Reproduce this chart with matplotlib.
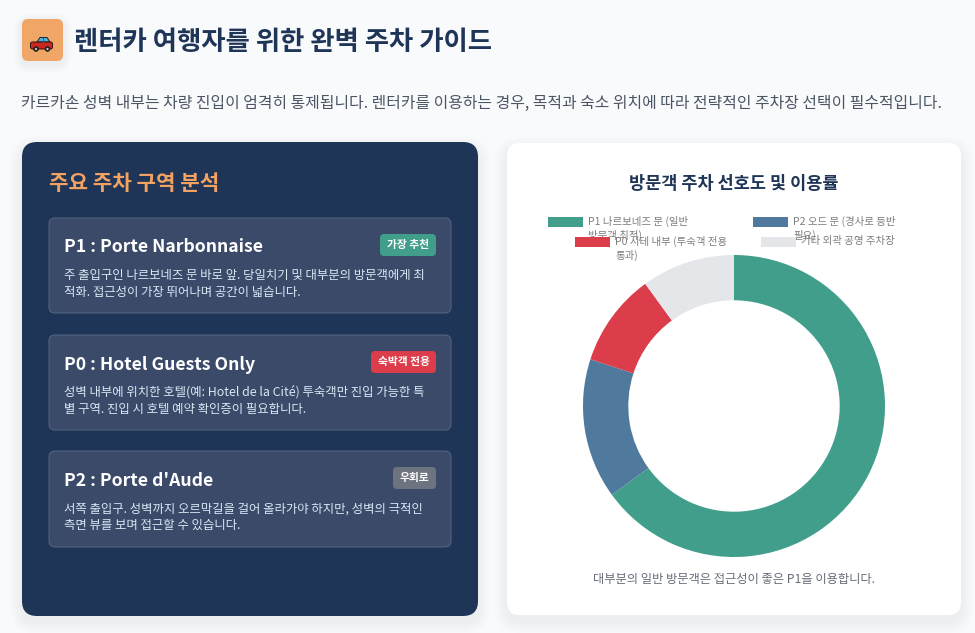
import matplotlib
matplotlib.use('Agg')
import matplotlib.pyplot as plt
from matplotlib.patches import FancyBboxPatch, Rectangle, Circle, Polygon

plt.rcParams['font.family'] = ['Noto Sans CJK KR', 'DejaVu Sans']

# chart data
shares = [65, 15, 10, 10]
share_colors = ['#409e8b', '#4f7a9e', '#dc3d4a', '#e4e6ea']
legend_labels = ['P1 나르보네즈 문 (일반\n방문객 최적)', 'P2 오드 문 (경사로 등반\n필요)',
                 'P0 시테 내부 (투숙객 전용\n통과)', '기타 외곽 공영 주차장']

# page text
title = '렌터카 여행자를 위한 완벽 주차 가이드'
intro = '카르카손 성벽 내부는 차량 진입이 엄격히 통제됩니다. 렌터카를 이용하는 경우, 목적과 숙소 위치에 따라 전략적인 주차장 선택이 필수적입니다.'
panel_title = '주요 주차 구역 분석'
chart_title = '방문객 주차 선호도 및 이용률'
chart_note = '대부분의 일반 방문객은 접근성이 좋은 P1을 이용합니다.'
card_titles = ['P1 : Porte Narbonnaise', 'P0 : Hotel Guests Only', "P2 : Porte d'Aude"]
card_texts = ['주 출입구인 나르보네즈 문 바로 앞. 당일치기 및 대부분의 방문객에게 최\n적화. 접근성이 가장 뛰어나며 공간이 넓습니다.',
              '성벽 내부에 위치한 호텔(예: Hotel de la Cité) 투숙객만 진입 가능한 특\n별 구역. 진입 시 호텔 예약 확인증이 필요합니다.',
              '서쪽 출입구. 성벽까지 오르막길을 걸어 올라가야 하지만, 성벽의 극적인\n측면 뷰를 보며 접근할 수 있습니다.']
badges = ['가장 추천', '숙박객 전용', '우회로']
badge_colors = ['#409e8b', '#dc3d4a', '#6e7380']

NAVY = '#1f3557'
PX = 0.72  # css px to pt at dpi 100

fig = plt.figure(figsize=(9.75, 6.33), dpi=100, facecolor='#f9fafc')
ax = fig.add_axes([0, 0, 1, 1])
ax.set_xlim(0, 975)
ax.set_ylim(633, 0)
ax.axis('off')


def box(x0, y0, x1, y1, r, fc, ec='none', lw=0, z=2, alpha=1):
    p = FancyBboxPatch((x0, y0), x1 - x0, y1 - y0, boxstyle=f'round,pad=0,rounding_size={r}',
                       fc=fc, ec=ec, lw=lw, alpha=alpha, zorder=z)
    ax.add_patch(p)
    return p


def shadow(x0, y0, x1, y1, r, dy=6, spread=12, strength=0.006):
    for i in range(spread, 0, -2):
        box(x0 - i, y0 - i + dy, x1 + i, y1 + i + dy, r + i, '#1f2a44', z=1, alpha=strength)


# header icon with a small drawn car
shadow(22, 19, 63, 61, 7, dy=3, spread=8, strength=0.012)
box(22, 19, 63, 61, 6, '#f0a666')
ax.add_patch(Polygon([(37, 42), (40, 37.5), (47, 37.5), (50, 42)], fc='#4fb3d9', ec='#222222', lw=0.7, zorder=3))
box(30.5, 42, 52.5, 49, 2, '#c8281f', ec='#331111', lw=0.7, z=3)
ax.add_patch(Rectangle((43, 38), 1.2, 5, fc='#b52a22', zorder=4))
for cx in (36, 47.5):
    ax.add_patch(Circle((cx, 49), 2.8, fc='#222222', zorder=5))
    ax.add_patch(Circle((cx, 49), 1.1, fc='#cccccc', zorder=6))

ax.text(74, 42, title, fontsize=26.4 * PX, fontweight='bold', color=NAVY, va='center', ha='left')
ax.text(21, 103, intro, fontsize=15.85 * PX, color='#4b5563', va='center', ha='left')

# left panel
shadow(22, 142, 478, 616, 16)
box(22, 142, 478, 616, 15, NAVY, z=2)
ax.text(49, 184, panel_title, fontsize=21.2 * PX, fontweight='bold', color='#f4a261', va='center', ha='left')

card_tops = [218, 335, 451]
card_bottoms = [313, 430, 547]
badge_lefts = [380, 371, 393]
for i in range(3):
    top = card_tops[i]
    box(49, top, 451, card_bottoms[i], 6, '#3a4a68', ec='#5d6c87', lw=0.6, z=3)
    ax.text(64, top + 34.5, card_titles[i], fontsize=17.6 * PX, fontweight='bold', color='white',
            va='baseline', ha='left', zorder=4)
    box(badge_lefts[i], top + 16, 436, top + 38, 4, badge_colors[i], z=4)
    ax.text((badge_lefts[i] + 436) / 2, top + 27, badges[i], fontsize=10.8 * PX, fontweight='bold',
            color='white', va='center', ha='center', zorder=5)
    ax.text(64, top + 66, card_texts[i], fontsize=12.4 * PX, color='#dbe7f5', va='center', ha='left',
            linespacing=1.33, zorder=4)

# right panel
shadow(507, 143, 961, 615, 14)
box(507, 143, 961, 615, 13, 'white', z=2)
ax.text(734, 184, chart_title, fontsize=17.5 * PX, fontweight='bold', color=NAVY, va='center', ha='center', zorder=4)
ax.text(734, 580, chart_note, fontsize=12.3 * PX, color='#666c78', va='center', ha='center', zorder=4)

# legend, laid out the way the reference wraps it
swatch_x = [548, 753, 575, 761]
swatch_y = [217, 217, 237, 237]
label_x = [588, 793, 615, 801]
clip_bottom = [237, 237, 255, 255]
for i in range(4):
    ax.add_patch(Rectangle((swatch_x[i], swatch_y[i]), 35, 10, fc=share_colors[i], ec='none', zorder=4))
    t = ax.text(label_x[i], swatch_y[i] - 1, legend_labels[i], fontsize=10.5 * PX, color='#7d7d7d',
                va='top', ha='left', linespacing=1.35, zorder=4 + i)
    t.set_clip_path(Rectangle((label_x[i], swatch_y[i] - 4), 150, clip_bottom[i] - swatch_y[i] + 4,
                              transform=ax.transData))

# donut
pie_ax = fig.add_axes([(734 - 151) / 975, 1 - (406 + 151) / 633, 302 / 975, 302 / 633])
pie_ax.pie(shares, colors=share_colors, startangle=90, counterclock=False, radius=1,
           wedgeprops={'width': 0.3, 'linewidth': 0})
pie_ax.set_xlim(-1, 1)
pie_ax.set_ylim(-1, 1)

fig.savefig('out.png', dpi=100, facecolor=fig.get_facecolor())
